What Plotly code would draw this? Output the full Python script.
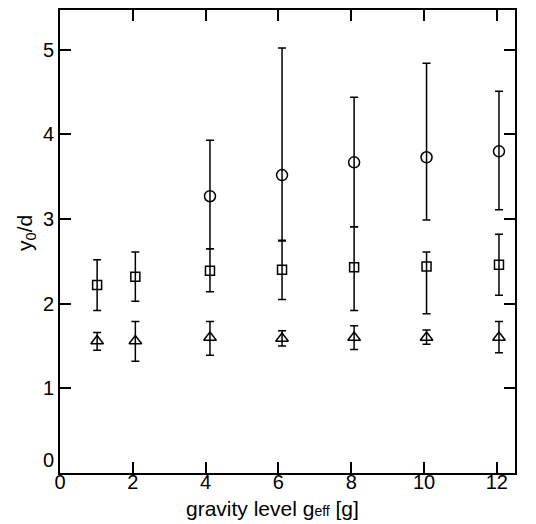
import plotly.graph_objects as go

# gravity levels (x positions of measured points)
g_circle = [4.12, 6.10, 8.08, 10.07, 12.06]
g_all = [1.02, 2.07, 4.12, 6.10, 8.08, 10.07, 12.06]

# circles series: centre, upper and lower bounds of error bars
circ_y = [3.27, 3.52, 3.67, 3.73, 3.80]
circ_hi = [3.93, 5.02, 4.44, 4.84, 4.51]
circ_lo = [2.65, 2.75, 2.91, 2.99, 3.11]

# squares series
sq_y = [2.22, 2.32, 2.39, 2.40, 2.43, 2.44, 2.46]
sq_hi = [2.52, 2.61, 2.65, 2.74, 2.91, 2.61, 2.82]
sq_lo = [1.92, 2.03, 2.14, 2.05, 1.92, 1.88, 2.10]

# triangles series
tri_y = [1.56, 1.56, 1.60, 1.59, 1.60, 1.60, 1.60]
tri_hi = [1.66, 1.79, 1.79, 1.68, 1.74, 1.69, 1.79]
tri_lo = [1.45, 1.32, 1.39, 1.50, 1.46, 1.52, 1.42]

x_ticks = [0, 2, 4, 6, 8, 10, 12]
y_ticks = [0, 1, 2, 3, 4, 5]
y_ticktext = ["0<br> ", "1", "2", "3", "4", "5"]

FONT = "Liberation Sans, Arial, sans-serif"


def trace(x, y, hi, lo, symbol, size):
    return go.Scatter(
        x=x, y=y, mode="markers",
        marker=dict(symbol=symbol, size=size, color="black",
                    line=dict(color="black", width=1.5)),
        error_y=dict(type="data", symmetric=False,
                     array=[h - v for h, v in zip(hi, y)],
                     arrayminus=[v - l for v, l in zip(y, lo)],
                     color="black", thickness=1.5, width=4),
        showlegend=False,
    )


fig = go.Figure()
fig.add_trace(trace(g_circle, circ_y, circ_hi, circ_lo, "circle-open", 11))
fig.add_trace(trace(g_all, sq_y, sq_hi, sq_lo, "square-open", 9))
fig.add_trace(trace(g_all, tri_y, tri_hi, tri_lo, "triangle-up-open", 11))

axis_common = dict(
    showgrid=False, zeroline=False, showline=True, linecolor="black",
    linewidth=2, mirror="ticks", ticks="inside", ticklen=11, tickwidth=1.5,
    tickcolor="black", tickfont=dict(family=FONT, size=20, color="black"),
)

fig.update_xaxes(range=[0, 12.5], tickvals=x_ticks,
                 ticktext=[str(v) for v in x_ticks],
                 ticklabelstandoff=-10, **axis_common)
fig.update_yaxes(range=[0, 5.47], tickvals=y_ticks,
                 ticktext=y_ticktext, **axis_common)

fig.update_layout(
    width=528, height=516,
    margin=dict(l=52, r=21, t=0, b=51),
    paper_bgcolor="white", plot_bgcolor="white",
    font=dict(family=FONT, size=20, color="black"),
    annotations=[
        dict(text='gravity level g<span style="font-size:14px">eff</span> [g]',
             xref="paper", yref="paper", x=0.468, y=-0.077,
             xanchor="center", yanchor="middle", showarrow=False,
             font=dict(family=FONT, size=21, color="black")),
        dict(text="y<sub>0</sub>/d", textangle=-90,
             xref="paper", yref="paper", x=-0.075, y=0.518,
             xanchor="center", yanchor="middle", showarrow=False,
             font=dict(family=FONT, size=21, color="black")),
    ],
)

fig.write_html("out.html")
